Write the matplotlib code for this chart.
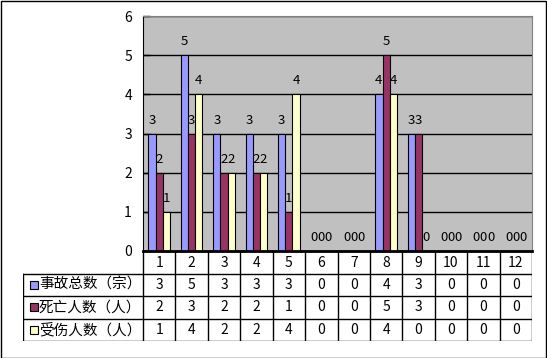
import matplotlib
matplotlib.use('Agg')
import matplotlib.pyplot as plt
from matplotlib.patches import Rectangle
import numpy as np

plt.rcParams['font.family'] = ['Noto Sans CJK SC', 'DejaVu Sans']

months = ['1', '2', '3', '4', '5', '6', '7', '8', '9', '10', '11', '12']
series_names = ['事故总数（宗）', '死亡人数（人）', '受伤人数（人）']
accidents = [3, 5, 3, 3, 3, 0, 0, 4, 3, 0, 0, 0]
deaths = [2, 3, 2, 2, 1, 0, 0, 5, 3, 0, 0, 0]
injured = [1, 4, 2, 2, 4, 0, 0, 4, 0, 0, 0, 0]
colors = ['#9999FF', '#993366', '#FFFFCC']

W, H = 547, 358
fig = plt.figure(figsize=(W / 100, H / 100), dpi=100)
fig.patch.set_facecolor('white')
fig.add_artist(Rectangle((0.5 / W, 0.5 / H), (W - 1.5) / W, (H - 1.5) / H,
                         transform=fig.transFigure, fill=False, ec='black', lw=1))

# main plot area
px_l, px_r, px_t, px_b = 143, 532, 16, 251
ax = fig.add_axes([px_l / W, 1 - px_b / H, (px_r - px_l) / W, (px_b - px_t) / H])
ax.set_facecolor('#C0C0C0')
x = np.arange(1, len(months) + 1)
bw = 0.222
data = [accidents, deaths, injured]
for k, vals in enumerate(data):
    pos = x + (k - 1) * bw
    ax.bar(pos, vals, width=bw, color=colors[k], edgecolor='black', lw=0.8, zorder=3)
    for xp, v in zip(pos, vals):
        ax.annotate(str(v), (xp, v), xytext=(0, 5), textcoords='offset points',
                    ha='center', va='bottom', fontsize=9.5, zorder=2)
ax.set_xlim(0.5, 12.5)
ax.set_ylim(0, 6)
ax.set_yticks(range(7))
ax.set_xticks([])
ax.yaxis.grid(True, color='black', lw=1, zorder=1)
ax.set_axisbelow(True)
ax.tick_params(axis='y', direction='in', length=5, width=1, pad=8, labelsize=10)
ax.spines['left'].set_color('black')
ax.spines['bottom'].set_linewidth(2)
ax.spines['bottom'].set_zorder(5)
ax.spines['top'].set_color('#808080')
ax.spines['right'].set_color('#808080')

# data table
tb_l, tb_b = 23, 341
tax = fig.add_axes([tb_l / W, 1 - tb_b / H, (px_r - tb_l) / W, (tb_b - px_b) / H])
col_w = (px_r - px_l) / len(months)
left_x = 0.5 - (px_l - tb_l) / col_w
tax.set_xlim(left_x, 12.5)
tax.set_ylim(4, 0)
tax.axis('off')
lk = dict(color='black', lw=1, solid_capstyle='projecting')
tax.plot([0.5, 12.5], [0, 0], **lk)
for r in range(1, 5):
    tax.plot([left_x, 12.5], [r, r], **lk)
tax.plot([left_x, left_x], [1, 4], **lk)
for c in range(len(months) + 1):
    tax.plot([c + 0.5, c + 0.5], [0, 4], **lk)
for i, m in enumerate(months):
    tax.text(i + 1, 0.52, m, ha='center', va='center', fontsize=10)
for r, (name, vals) in enumerate(zip(series_names, data)):
    yc = r + 1.5
    sq = 8 / col_w
    tax.add_patch(Rectangle((left_x + 6.5 / col_w, yc - 0.18), sq, 0.36,
                            facecolor=colors[r], edgecolor='black', lw=0.8))
    tax.text(left_x + 16 / col_w, yc, name, ha='left', va='center', fontsize=10.5)
    for i, v in enumerate(vals):
        tax.text(i + 1, yc, str(v), ha='center', va='center', fontsize=10)

fig.savefig('out.png', dpi=100)
